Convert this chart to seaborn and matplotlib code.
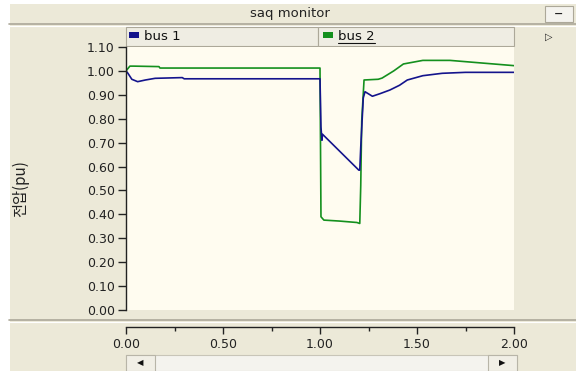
import matplotlib
matplotlib.use("Agg")
import matplotlib.pyplot as plt
from matplotlib.patches import Rectangle, Patch
from matplotlib.lines import Line2D
import seaborn as sns
import pandas as pd

# ---------------- data ----------------
series_names = ["bus 1", "bus 2"]
t_bus1 = [0.00, 0.01, 0.03, 0.06, 0.10, 0.15, 0.29, 0.30, 1.00, 1.005, 1.01, 1.013, 1.20, 1.205,
          1.21, 1.223, 1.232, 1.27, 1.31, 1.36, 1.41, 1.45, 1.53, 1.63, 1.75, 2.00]
v_bus1 = [1.00, 0.99, 0.965, 0.955, 0.962, 0.969, 0.972, 0.967, 0.967, 0.765, 0.71, 0.735, 0.585, 0.585,
          0.68, 0.887, 0.913, 0.894, 0.905, 0.92, 0.94, 0.962, 0.98, 0.99, 0.994, 0.994]
t_bus2 = [0.00, 0.02, 0.04, 0.17, 0.175, 1.00, 1.005, 1.02, 1.10, 1.19, 1.205, 1.21, 1.215, 1.227,
          1.30, 1.32, 1.38, 1.43, 1.53, 1.67, 1.79, 2.00]
v_bus2 = [1.00, 1.02, 1.02, 1.018, 1.012, 1.012, 0.39, 0.376, 0.372, 0.366, 0.362, 0.52, 0.79, 0.962,
          0.965, 0.97, 1.00, 1.029, 1.044, 1.044, 1.036, 1.022]
y_ticks = [0.0, 0.1, 0.2, 0.3, 0.4, 0.5, 0.6, 0.7, 0.8, 0.9, 1.0, 1.1]
x_ticks = [0.0, 0.5, 1.0, 1.5, 2.0]
x_minor = [0.25, 0.75, 1.25, 1.75]
title_text = "saq monitor"
y_label = "전압(pu)"

colors = {"bus 1": "#14148C", "bus 2": "#14901E"}

# ---------------- figure ----------------
sns.set_style("white")
plt.rcParams["font.family"] = ["DejaVu Sans"]
W, H = 576, 371
fig = plt.figure(figsize=(W / 100, H / 100), dpi=100, facecolor="white")

def fx(px):
    return px / W

def fy(py):
    return 1 - py / H

GRAY = "#ECE9D8"
DARK = "#ACA899"
CREAM = "#FFFCF0"
TXT = "#222222"
FS = 9

# window chrome
fig.patches.append(Rectangle((fx(10), 0), 1 - fx(10), fy(4), transform=fig.transFigure,
                             facecolor=GRAY, edgecolor="none", zorder=-10))
fig.add_artist(Line2D([fx(9), 1], [fy(24), fy(24)], color=DARK, lw=1.2, zorder=-5))
fig.add_artist(Line2D([fx(9), 1], [fy(25.5), fy(25.5)], color="white", lw=0.8, zorder=-5))
fig.text(fx(290), fy(13.5), title_text, ha="center", va="center", fontsize=9.5, color=TXT)
fig.patches.append(Rectangle((fx(545), fy(22)), fx(573) - fx(545), fy(6) - fy(22),
                             transform=fig.transFigure, facecolor="#F4F3EE", edgecolor=DARK, lw=0.8,
                             zorder=-5))
fig.text(fx(559), fy(14), "−", ha="center", va="center", fontsize=8, fontweight="bold", color=TXT)

# legend cells
for x0, x1 in [(126, 318), (318, 514)]:
    fig.patches.append(Rectangle((fx(x0), fy(46)), fx(x1) - fx(x0), fy(27) - fy(46),
                                 transform=fig.transFigure, facecolor="#EFEDE3",
                                 edgecolor=DARK, lw=0.8, zorder=-5))
fig.text(fx(549), fy(37), "▷", ha="center", va="center", fontsize=7, color=TXT)

# separator below plot
fig.add_artist(Line2D([fx(9), 1], [fy(320), fy(320)], color=DARK, lw=1.2, zorder=-5))
fig.add_artist(Line2D([fx(9), 1], [fy(321.5), fy(321.5)], color="white", lw=0.8, zorder=-5))

# scrollbar
fig.patches.append(Rectangle((fx(126), fy(371)), fx(517) - fx(126), fy(355) - fy(371),
                             transform=fig.transFigure, facecolor="#F4F3EE", edgecolor="#C8C5B8", lw=0.8,
                             zorder=-5))
for x0 in (126, 488):
    fig.patches.append(Rectangle((fx(x0), fy(371)), fx(x0 + 29) - fx(x0), fy(355) - fy(371),
                                 transform=fig.transFigure, facecolor="#F1EFE6", edgecolor="#B8B5A8", lw=0.8,
                                 zorder=-4))
fig.text(fx(140), fy(363), "◀", ha="center", va="center", fontsize=6, color="#111111")
fig.text(fx(502), fy(363), "▶", ha="center", va="center", fontsize=6, color="#111111")

# ---------------- main plot ----------------
ax = fig.add_axes([fx(126), fy(310), fx(514) - fx(126), fy(47) - fy(310)])
ax.set_facecolor(CREAM)
df1 = pd.DataFrame({"t": t_bus1, "v": v_bus1})
df2 = pd.DataFrame({"t": t_bus2, "v": v_bus2})
sns.lineplot(data=df2, x="t", y="v", estimator=None, sort=False, color=colors["bus 2"],
             lw=1.2, ax=ax, legend=False)
sns.lineplot(data=df1, x="t", y="v", estimator=None, sort=False, color=colors["bus 1"],
             lw=1.2, ax=ax, legend=False)
ax.set_xlim(0, 2)
ax.set_ylim(0, 1.1)
ax.set_xticks([])
ax.set_yticks(y_ticks)
ax.set_yticklabels([f"{v:.2f}" for v in y_ticks])
ax.tick_params(axis="y", direction="out", length=6, width=1, colors=TXT, labelsize=FS, pad=2,
               left=True)
for s in ["top", "right", "bottom"]:
    ax.spines[s].set_visible(False)
ax.spines["left"].set_color(TXT)
ax.spines["left"].set_linewidth(1)
ax.set_xlabel("")
ax.set_ylabel("")
fig.text(fx(21), fy(189), y_label, rotation=90, ha="center", va="center", fontsize=11,
         family=["Noto Sans CJK KR", "DejaVu Sans"], color=TXT)

# legend
h1 = [Patch(facecolor=colors["bus 1"], edgecolor="none", label=series_names[0])]
h2 = [Patch(facecolor=colors["bus 2"], edgecolor="none", label=series_names[1])]
leg_kw = dict(frameon=False, fontsize=9.5, handlelength=0.75, handleheight=0.35, handletextpad=0.4,
              borderpad=0, borderaxespad=0, loc="center left")
leg1 = ax.legend(handles=h1, bbox_to_anchor=((129 - 126) / (514 - 126), 1 + 10.5 / 263),
                 bbox_transform=ax.transAxes, **leg_kw)
ax.add_artist(leg1)
leg2 = ax.legend(handles=h2, bbox_to_anchor=((323 - 126) / (514 - 126), 1 + 10.5 / 263),
                 bbox_transform=ax.transAxes, **leg_kw)
for t in leg1.get_texts() + leg2.get_texts():
    t.set_color("#111111")

# ---------------- x axis strip ----------------
axx = fig.add_axes([fx(126), fy(327), fx(514) - fx(126), 0.0001])
axx.set_xlim(0, 2)
axx.set_yticks([])
axx.set_xticks(x_ticks)
axx.set_xticklabels([f"{v:.2f}" for v in x_ticks])
axx.set_xticks(x_minor, minor=True)
axx.tick_params(axis="x", which="major", direction="out", length=5, width=1, colors=TXT,
                labelsize=FS, pad=3, bottom=True)
axx.tick_params(axis="x", which="minor", direction="out", length=3, width=1, colors=TXT,
                bottom=True)
axx.patch.set_alpha(0)
for s in ["top", "right", "left"]:
    axx.spines[s].set_visible(False)
axx.spines["bottom"].set_color(TXT)
axx.spines["bottom"].set_linewidth(1)

# underline under "bus 2" (measured from the rendered text)
fig.canvas.draw()
bb = leg2.get_texts()[0].get_window_extent()
inv = fig.transFigure.inverted()
(x0f, y0f), (x1f, _) = inv.transform([(bb.x0, bb.y0), (bb.x1, bb.y0)])
fig.add_artist(Line2D([x0f, x1f], [y0f - 0.5 / H, y0f - 0.5 / H], color="#111111", lw=0.8))

fig.savefig("out.png", dpi=100, facecolor=fig.get_facecolor())
